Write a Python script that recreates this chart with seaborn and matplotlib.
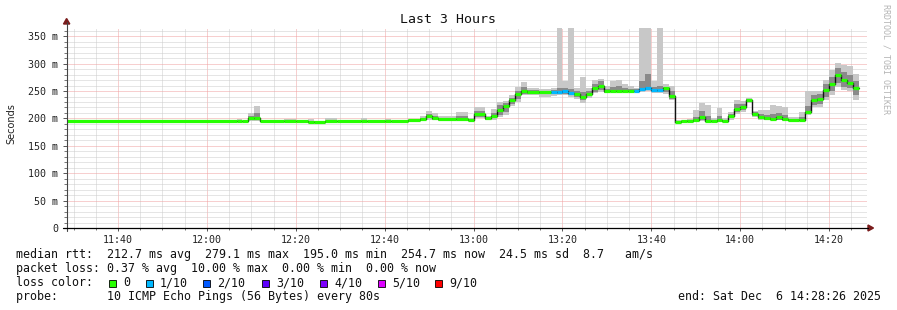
import matplotlib
matplotlib.use("Agg")
import matplotlib.pyplot as plt
import matplotlib.dates as mdates
from matplotlib.patches import Rectangle, Polygon
from matplotlib.ticker import MultipleLocator, FuncFormatter
import numpy as np
import pandas as pd
import seaborn as sns

# ---------------- data ----------------
day = "2025-12-06 "
view_start = "11:28:26"
view_end = "14:28:26"
data_end = "14:26:40"

seg_start = ["11:28:26", "12:06:40", "12:08:00", "12:09:20", "12:10:40", "12:12:00",
             "12:17:20", "12:20:00", "12:22:40", "12:24:00", "12:26:40", "12:29:20",
             "12:34:40", "12:36:00", "12:40:00", "12:41:20", "12:45:20", "12:48:00",
             "12:49:20", "12:50:40", "12:52:00", "12:56:00", "12:58:40", "13:00:00",
             "13:02:40", "13:04:00", "13:05:20", "13:06:40", "13:08:00", "13:09:20",
             "13:10:40", "13:12:00", "13:14:40", "13:17:20", "13:18:40", "13:20:00",
             "13:21:20", "13:22:40", "13:24:00", "13:25:20", "13:26:40", "13:28:00",
             "13:29:20", "13:30:40", "13:32:00", "13:33:20", "13:34:40", "13:36:00",
             "13:37:20", "13:38:40", "13:40:00", "13:41:20", "13:42:40", "13:44:00",
             "13:45:20", "13:46:40", "13:48:00", "13:49:20", "13:50:40", "13:52:00",
             "13:53:20", "13:54:40", "13:56:00", "13:57:20", "13:58:40", "14:00:00",
             "14:01:20", "14:02:40", "14:04:00", "14:05:20", "14:06:40", "14:08:00",
             "14:09:20", "14:10:40", "14:13:20", "14:14:40", "14:16:00", "14:17:20",
             "14:18:40", "14:20:00", "14:21:20", "14:22:40", "14:24:00", "14:25:20"]

median_ms = [195, 195, 195, 200, 201, 195, 195, 195, 194, 194, 195, 195,
             195, 195, 195, 195, 197, 199, 204, 200, 199, 199, 198, 209,
             200, 205, 215, 222, 233, 244, 251, 249, 248, 248, 249, 250,
             247, 244, 239, 245, 255, 259, 250, 250, 251, 251, 251, 251,
             254, 255, 252, 252, 256, 241, 194, 196, 196, 198, 203, 196,
             196, 197, 196, 204, 217, 220, 233, 209, 202, 200, 199, 202,
             199, 197, 197, 211, 233, 236, 252, 262, 279, 270, 264, 255]

smoke_lo = [194, 194, 194, 196, 196, 194, 194, 194, 193, 193, 194, 194,
            194, 194, 194, 194, 195, 196, 197, 197, 196, 196, 196, 200,
            197, 197, 202, 206, 222, 230, 242, 242, 240, 241, 242, 242,
            240, 236, 229, 238, 246, 248, 246, 248, 248, 249, 249, 249,
            249, 250, 246, 246, 245, 233, 193, 195, 195, 196, 196, 195,
            195, 195, 195, 198, 209, 212, 228, 203, 197, 197, 197, 197,
            196, 196, 196, 206, 220, 220, 233, 242, 258, 252, 250, 233]

smoke_hi = [196, 199, 196, 210, 222, 196, 199, 196, 199, 196, 200, 196,
            200, 196, 199, 196, 199, 204, 214, 210, 205, 211, 200, 220,
            204, 217, 230, 232, 243, 257, 266, 255, 254, 256, 365, 268,
            365, 256, 275, 256, 270, 272, 260, 268, 270, 262, 260, 256,
            365, 365, 268, 365, 262, 260, 198, 197, 199, 215, 228, 224,
            200, 219, 200, 212, 233, 232, 238, 214, 215, 215, 225, 222,
            220, 203, 211, 250, 250, 250, 270, 288, 301, 297, 295, 282]

core_lo = [195, 195, 195, 197, 198, 195, 195, 195, 194, 194, 195, 195,
           195, 195, 195, 195, 196, 197, 200, 198, 197, 197, 197, 203,
           198, 200, 206, 212, 227, 236, 245, 245, 244, 244, 245, 245,
           243, 240, 233, 241, 249, 252, 247, 249, 249, 250, 250, 250,
           251, 252, 249, 249, 249, 236, 193, 195, 195, 197, 198, 196,
           195, 196, 195, 200, 212, 215, 230, 205, 199, 198, 198, 198,
           197, 196, 197, 208, 225, 226, 240, 250, 264, 258, 255, 242]

core_hi = [195, 196, 195, 204, 210, 195, 196, 195, 195, 195, 196, 195,
           196, 195, 196, 195, 198, 201, 208, 204, 201, 204, 199, 214,
           202, 210, 224, 228, 238, 250, 258, 252, 251, 252, 255, 256,
           254, 250, 248, 250, 262, 268, 254, 258, 260, 255, 254, 253,
           268, 282, 258, 260, 258, 250, 196, 196, 197, 202, 214, 205,
           197, 204, 197, 208, 226, 227, 236, 212, 209, 206, 208, 210,
           206, 199, 203, 222, 242, 244, 262, 275, 292, 285, 280, 268]

loss_tenths = [0, 0, 0, 0, 0, 0, 0, 0, 0, 0, 0, 0,
               0, 0, 0, 0, 0, 0, 0, 0, 0, 0, 0, 0,
               0, 0, 0, 0, 0, 0, 0, 0, 0, 1, 1, 1,
               1, 0, 0, 0, 0, 0, 0, 0, 0, 0, 0, 1,
               1, 1, 1, 1, 0, 0, 0, 0, 0, 0, 0, 0,
               0, 0, 0, 0, 0, 0, 0, 0, 0, 0, 0, 0,
               0, 0, 0, 0, 0, 0, 0, 0, 0, 0, 0, 0]

loss_labels = ["0", "1/10", "2/10", "3/10", "4/10", "5/10", "9/10"]
loss_colors = ["#26ff00", "#00b8ff", "#0059ff", "#5e00ff", "#7e00ff", "#dd00ff", "#ff0000"]

title = "Last 3 Hours"
ylabel = "Seconds"
line_rtt = "median rtt:  212.7 ms avg  279.1 ms max  195.0 ms min  254.7 ms now  24.5 ms sd  8.7   am/s"
line_loss = "packet loss: 0.37 % avg  10.00 % max  0.00 % min  0.00 % now"
line_color = "loss color:"
line_probe = "probe:       10 ICMP Echo Pings (56 Bytes) every 80s"
line_end = "end: Sat Dec  6 14:28:26 2025"
watermark = "RRDTOOL / TOBI OETIKER"

# ---------------- figure ----------------
W, H = 897, 310
sns.set_theme(style="white")
plt.rcParams['font.family'] = ['DejaVu Sans Mono', 'DejaVu Sans']
plt.rcParams['lines.scale_dashes'] = True

fig = plt.figure(figsize=(W / 100, H / 100), dpi=100)
fig.patch.set_facecolor("white")

def fx(x):
    return x / W

def fy(y):
    return 1 - y / H

ax_left, ax_right, ax_top, ax_bottom = 66.6, 866.6, 27.8, 228.0
ax = fig.add_axes([fx(ax_left), fy(ax_bottom), (ax_right - ax_left) / W, (ax_bottom - ax_top) / H])
ax.set_facecolor("white")

t_edges = mdates.date2num(pd.to_datetime([day + s for s in seg_start + [data_end]]))
starts, ends = t_edges[:-1], t_edges[1:]

def ext(v):
    v = np.asarray(v, dtype=float)
    return np.append(v, v[-1])

# smoke
ax.fill_between(t_edges, ext(smoke_lo), ext(smoke_hi), step="post", color="#c8c8c8", lw=0, zorder=2)
ax.fill_between(t_edges, ext(core_lo), ext(core_hi), step="post", color="#8a8a8a", lw=0, zorder=3)

# median black step line
df = pd.DataFrame({"t": t_edges, "median": ext(median_ms)})
sns.lineplot(data=df, x="t", y="median", drawstyle="steps-post", color="#111111",
             lw=1.0, estimator=None, ax=ax, zorder=4)

# loss-colored median bars
ax.hlines(median_ms, starts, ends, colors=[loss_colors[l] for l in loss_tenths],
          lw=2.3, zorder=5)

# axes limits
ax.set_xlim(mdates.date2num(pd.Timestamp(day + view_start)), mdates.date2num(pd.Timestamp(day + view_end)))
ax.set_ylim(0, 365.5)

# grid
ax.xaxis.set_major_locator(mdates.MinuteLocator(byminute=[0, 20, 40]))
ax.xaxis.set_minor_locator(mdates.MinuteLocator(byminute=range(0, 60, 5)))
ax.xaxis.set_major_formatter(mdates.DateFormatter("%H:%M"))
ax.yaxis.set_major_locator(MultipleLocator(50))
ax.yaxis.set_minor_locator(MultipleLocator(10))
ax.yaxis.set_major_formatter(FuncFormatter(lambda v, p: "0" if v == 0 else f"{int(v)} m"))

ax.grid(which="minor", color="#cdcdcd", lw=0.72, ls=(0, (1, 1)), zorder=1)
ax.grid(which="major", color="#f0a0a0", lw=0.72, ls=(0, (1, 1)), zorder=1)
ax.set_axisbelow(True)

for sp in ax.spines.values():
    sp.set_visible(False)

ax.tick_params(axis="y", which="major", length=3, width=0.7, color="#555555", pad=3,
               labelsize=7.2, labelcolor="#222222", left=True)
ax.tick_params(axis="y", which="minor", length=2, width=0.7, color="#777777", left=True)
ax.tick_params(axis="x", which="major", length=2.5, width=0.7, color="#555555", pad=2.5,
               labelsize=7.2, labelcolor="#222222", bottom=True)
ax.tick_params(axis="x", which="minor", length=1.5, width=0.7, color="#777777", bottom=True)
ax.set_xlabel("")
ax.set_ylabel("")

# axis lines with arrows
fig.add_artist(plt.Line2D([fx(66.6), fx(66.6)], [fy(231), fy(22)], color="#444444", lw=0.8))
fig.add_artist(plt.Line2D([fx(63), fx(868)], [fy(228), fy(228)], color="#000000", lw=0.9))
fig.add_artist(Polygon([[fx(63.5), fy(24)], [fx(69.8), fy(24)], [fx(66.6), fy(18.5)]],
                       closed=True, color="#7a1c1c", transform=fig.transFigure))
fig.add_artist(Polygon([[fx(868), fy(225)], [fx(868), fy(231)], [fx(873.5), fy(228)]],
                       closed=True, color="#7a1c1c", transform=fig.transFigure))

# title, y label, watermark
fig.text(fx(448), fy(19.5), title, ha="center", va="center", fontsize=9.5, color="#111111")
fig.text(fx(11), fy(124), ylabel, ha="center", va="center", rotation=90, fontsize=7,
         color="#222222", family=["DejaVu Sans"])
fig.text(fx(886), fy(59), watermark, ha="center", va="center", rotation=270, fontsize=6,
         color="#b4b4b4")

# legend rows
fs = 8.4
fig.text(fx(16), fy(254.5), line_rtt, ha="left", va="center", fontsize=fs, color="#111111")
fig.text(fx(16), fy(268.5), line_loss, ha="left", va="center", fontsize=fs, color="#111111")
fig.text(fx(16), fy(282.5), line_color, ha="left", va="center", fontsize=fs, color="#111111")
fig.text(fx(16), fy(296.5), line_probe, ha="left", va="center", fontsize=fs, color="#111111")
fig.text(fx(881), fy(296.5), line_end, ha="right", va="center", fontsize=fs, color="#111111")

sq_x = [109, 146, 203, 262, 320, 378, 435]
for x0, lab, col in zip(sq_x, loss_labels, loss_colors):
    fig.add_artist(Rectangle((fx(x0), fy(286.5)), 7 / W, 7 / H, facecolor=col,
                             edgecolor="#000000", lw=0.6, transform=fig.transFigure))
    fig.text(fx(x0 + 14), fy(282.5), lab, ha="left", va="center", fontsize=fs, color="#111111")

fig.savefig("out.png", dpi=100, facecolor="white")
